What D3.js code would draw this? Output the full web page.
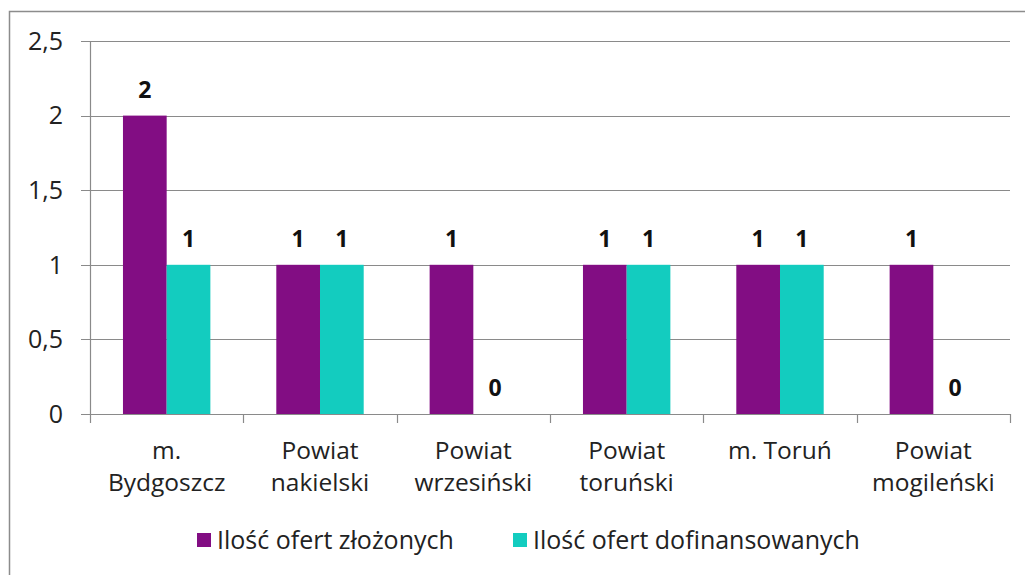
<!DOCTYPE html>
<html>
<head>
<meta charset="utf-8">
<script src="https://d3js.org/d3.v7.min.js"></script>
<style>
  body { margin: 0; background: #fff; }
  svg { font-family: 'Open Sans', sans-serif; }
</style>
</head>
<body>
<div id="chart"></div>
<script>
// data
var categories = [["m.", "Bydgoszcz"], ["Powiat", "nakielski"], ["Powiat", "wrzesiński"],
                  ["Powiat", "toruński"], ["m. Toruń"], ["Powiat", "mogileński"]];
var seriesNames = ["Ilość ofert złożonych", "Ilość ofert dofinansowanych"];
var submitted = [2, 1, 1, 1, 1, 1];
var funded = [1, 1, 0, 1, 1, 0];
var yTicks = [0, 0.5, 1, 1.5, 2, 2.5];
var colors = ["#820d83", "#13ccbf"];

var width = 1025, height = 575;
var margin = {left: 90, right: 15, top: 41, bottom: 161};

var svg = d3.select("#chart").append("svg")
  .attr("width", width).attr("height", height);

// outer frame
svg.append("rect")
  .attr("x", 9.5).attr("y", 11.5)
  .attr("width", 1030).attr("height", 600)
  .attr("fill", "none").attr("stroke", "#8c8c8c").attr("stroke-width", 1.5);

var idx = categories.map(function(d, i) { return i; });
var x = d3.scaleBand().domain(idx).range([margin.left, width - margin.right]);
var y = d3.scaleLinear().domain([0, 2.5]).range([height - margin.bottom, margin.top]);

var g = svg.append("g");

// gridlines
g.selectAll("line.grid").data(yTicks).enter().append("line")
  .attr("class", "grid")
  .attr("x1", margin.left - 9).attr("x2", width - margin.right)
  .attr("y1", function(d) { return Math.round(y(d)) + 0.5; })
  .attr("y2", function(d) { return Math.round(y(d)) + 0.5; })
  .attr("stroke", "#8a8a8a").attr("stroke-width", 1.2);

// y labels
g.selectAll("text.ylab").data(yTicks).enter().append("text")
  .attr("x", 63).attr("y", function(d) { return y(d); })
  .attr("dy", "0.35em").attr("text-anchor", "end")
  .attr("font-size", 25).attr("fill", "#222")
  .text(function(d) { return d3.format(".1~f")(d).replace(".", ","); });

// y axis line
g.append("line")
  .attr("x1", margin.left + 0.5).attr("x2", margin.left + 0.5)
  .attr("y1", y(2.5)).attr("y2", y(0))
  .attr("stroke", "#8a8a8a").attr("stroke-width", 1.2);

// category ticks
var catTicks = idx.map(function(i) { return x(i); }).concat([x(idx.length - 1) + x.bandwidth()]);
g.selectAll("line.ctick").data(catTicks).enter().append("line")
  .attr("x1", function(d) { return Math.round(d) + 0.5; })
  .attr("x2", function(d) { return Math.round(d) + 0.5; })
  .attr("y1", y(0)).attr("y2", y(0) + 9)
  .attr("stroke", "#8a8a8a").attr("stroke-width", 1.2);

// bars
var barW = x.bandwidth() * 0.285;
var series = [submitted, funded];
series.forEach(function(vals, s) {
  g.selectAll("rect.s" + s).data(vals).enter().append("rect")
    .attr("x", function(d, i) { return x(i) + x.bandwidth() / 2 + (s - 1) * barW; })
    .attr("y", function(d) { return y(d); })
    .attr("width", barW)
    .attr("height", function(d) { return y(0) - y(d); })
    .attr("fill", colors[s]);
  g.selectAll("text.v" + s).data(vals).enter().append("text")
    .attr("x", function(d, i) { return x(i) + x.bandwidth() / 2 + (s - 0.5) * barW; })
    .attr("y", function(d) { return y(d) - 26; })
    .attr("dy", "0.35em").attr("text-anchor", "middle")
    .attr("font-size", 23).attr("font-weight", "bold").attr("fill", "#111")
    .text(function(d) { return d; });
});

// category labels
var cl = g.selectAll("text.cat").data(categories).enter().append("text")
  .attr("text-anchor", "middle").attr("font-size", 24.5).attr("fill", "#222")
  .attr("transform", function(d, i) { return "translate(" + (x(i) + x.bandwidth() / 2) + "," + (y(0) + 45) + ")"; });
cl.selectAll("tspan").data(function(d) { return d; }).enter().append("tspan")
  .attr("x", 0).attr("y", function(d, j) { return j * 32; })
  .text(function(d) { return d; });

// legend
var legX = [197, 513];
var leg = svg.selectAll("g.leg").data(seriesNames).enter().append("g")
  .attr("transform", function(d, i) { return "translate(" + legX[i] + ",540)"; });
leg.append("rect").attr("x", 0).attr("y", -7).attr("width", 14).attr("height", 14)
  .attr("fill", function(d, i) { return colors[i]; });
leg.append("text").attr("x", 20).attr("dy", "0.35em")
  .attr("font-size", 25).attr("fill", "#222")
  .text(function(d) { return d; });
</script>
</body>
</html>
